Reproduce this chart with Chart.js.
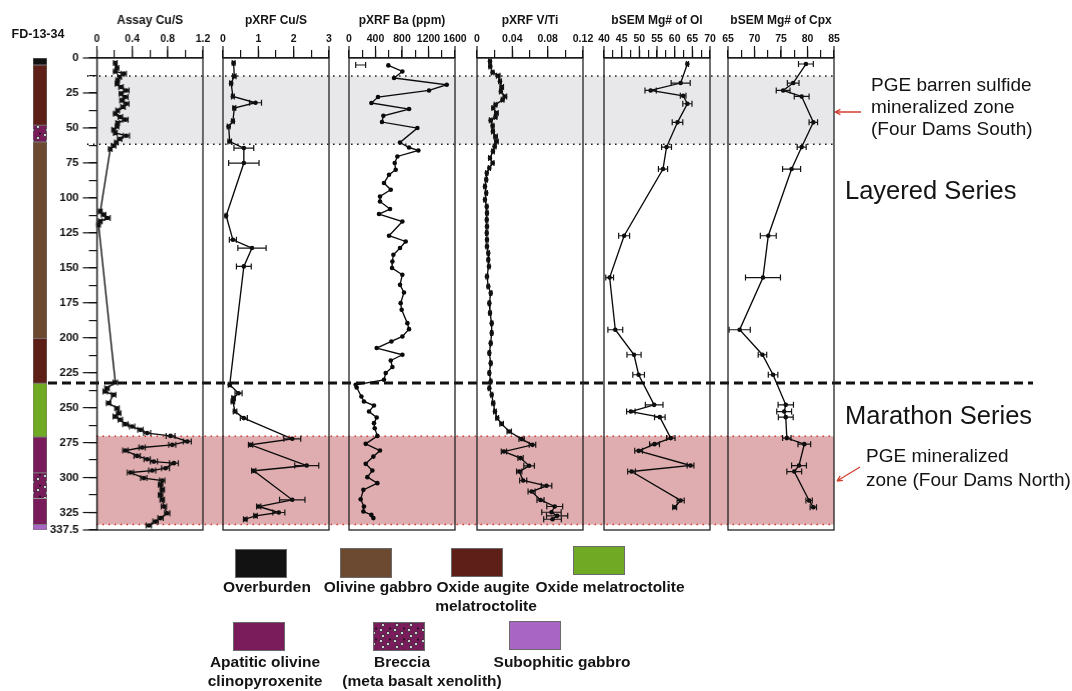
<!DOCTYPE html>
<html lang="en">
<head>
<meta charset="utf-8">
<title>FD-13-34 downhole profiles</title>
<script src="https://cdn.jsdelivr.net/npm/chart.js@4.4.1/dist/chart.umd.min.js"></script>
<style>
  html, body { margin: 0; padding: 0; background: #ffffff; }
  #figure { position: relative; width: 1072px; height: 691px; overflow: hidden; background: #ffffff; }
  #figure canvas { position: absolute; top: 0; }
</style>
</head>
<body>
<div id="figure"></div>
<script>
// ---------------- drill hole data (depth in m) ----------------
const holeId = 'FD-13-34';
const DEPTH_MAX = 337.5;

const depthTicks  = [0, 12.5, 25, 37.5, 50, 62.5, 75, 87.5, 100, 112.5, 125, 137.5, 150, 162.5, 175, 187.5,
                     200, 212.5, 225, 237.5, 250, 262.5, 275, 287.5, 300, 312.5, 325, 337.5];
const depthMajor  = [0, 25, 50, 75, 100, 125, 150, 175, 200, 225, 250, 275, 300, 325, 337.5];
const depthLabels = ['0', '25', '50', '75', '100', '125', '150', '175', '200', '225', '250', '275', '300', '325', '337.5'];

// lithology log
const lithoUnit = ['Overburden', 'Oxide augite melatroctolite', 'Breccia', 'Olivine gabbro',
                   'Oxide augite melatroctolite', 'Oxide melatroctolite', 'Apatitic olivine clinopyroxenite',
                   'Breccia', 'Apatitic olivine clinopyroxenite', 'Subophitic gabbro'];
const lithoFrom = [0, 5, 48, 60, 200.5, 232.5, 271, 296.5, 315, 333.5];
const lithoTo   = [5, 48, 60, 200.5, 232.5, 271, 296.5, 315, 333.5, 337.5];

// mineralized zones and series contact
const barrenZone   = [12.9, 61.7];
const mineralZone  = [270.5, 333.6];
const seriesContact = 232.4;

// Assay Cu/S
const assayDepth = [3.6, 7.2, 9.6, 11.2, 13.6, 16, 18.4, 20.7, 23.2, 25.5, 27.9, 30.3, 32.7, 35, 37.5, 39.8, 42.2,
  44.1, 46.5, 48.9, 51.3, 53.6, 55.6, 57.9, 60.4, 62.7, 65.1,
  109.7, 112, 114.4, 116.8, 119.2,
  232, 236.1, 238.5, 240.8, 246.8, 250.4, 254, 256.4, 258.7, 261.8, 263.5, 265.9, 268.2, 270.2, 274.2, 276.6,
  278.5, 280.7, 284.5, 286.9, 288.6, 289.7, 293.3, 295, 296.4, 300.4, 302.1, 305.2, 308.8, 312.4, 315.9, 320.7,
  325.5, 329, 331.5, 334.3];
const assayCuS = [0.208, 0.227, 0.208, 0.303, 0.257, 0.234, 0.227, 0.272, 0.333, 0.272, 0.322, 0.284, 0.333, 0.295,
  0.234, 0.208, 0.265, 0.322, 0.234, 0.227, 0.189, 0.208, 0.333, 0.257, 0.219, 0.189, 0.151,
  0.038, 0.075, 0.12, 0.038, 0.018,
  0.208, 0.114, 0.094, 0.189, 0.132, 0.227, 0.246, 0.208, 0.265, 0.322, 0.398, 0.492, 0.568, 0.833, 1.023, 0.852,
  0.511, 0.322, 0.455, 0.568, 0.644, 0.871, 0.776, 0.625, 0.379, 0.53, 0.739, 0.72, 0.739, 0.72, 0.739, 0.758,
  0.795, 0.72, 0.663, 0.587];
const assayErr = [0.02, 0.02, 0.02, 0.03, 0.02, 0.02, 0.02, 0.025, 0.03, 0.02, 0.03, 0.025, 0.03, 0.025, 0.02, 0.02,
  0.025, 0.03, 0.02, 0.02, 0.02, 0.02, 0.035, 0.025, 0.02, 0.025, 0.02,
  0.02, 0.025, 0.03, 0.02, 0.02,
  0.025, 0.025, 0.025, 0.025, 0.025, 0.025, 0.025, 0.025, 0.025, 0.03, 0.03, 0.03, 0.04, 0.05, 0.045, 0.04,
  0.035, 0.03, 0.035, 0.035, 0.04, 0.05, 0.045, 0.04, 0.035, 0.035, 0.03, 0.025, 0.025, 0.025, 0.025, 0.03,
  0.03, 0.03, 0.03, 0.03];
const assayTicks = [0, 0.2, 0.4, 0.6, 0.8, 1.0, 1.2];
const assayMajor = [0, 0.4, 0.8, 1.2];
const assayTickLabels = ['0', '0.4', '0.8', '1.2'];

// pXRF Cu/S
const xrfCuDepth = [3.6, 13, 18, 27.5, 32, 35.8, 45.3, 49, 59.7, 64.4, 75.1, 112.8, 130, 135.9, 149,
  233.7, 239.7, 243.2, 245.6, 252.8, 257.5, 272.3, 276.6, 291.4, 295.2, 315.9, 320.7, 325, 327.4, 329.8];
const xrfCuS = [0.30, 0.32, 0.23, 0.28, 0.92, 0.32, 0.28, 0.16, 0.19, 0.59, 0.59, 0.09, 0.28, 0.82, 0.59,
  0.19, 0.44, 0.30, 0.28, 0.34, 0.59, 1.96, 0.78, 2.37, 0.87, 1.96, 1.01, 1.58, 0.92, 0.63];
const xrfCuErr = [0.04, 0.05, 0.04, 0.04, 0.17, 0.04, 0.04, 0.04, 0.05, 0.28, 0.43, 0.03, 0.1, 0.4, 0.21,
  0.04, 0.1, 0.05, 0.05, 0.05, 0.1, 0.24, 0.06, 0.34, 0.06, 0.36, 0.06, 0.17, 0.05, 0.05];
const xrfCuTicks = [0, 0.5, 1, 1.5, 2, 2.5, 3];
const xrfCuMajor = [0, 1, 2, 3];
const xrfCuTickLabels = ['0', '1', '2', '3'];

// pXRF Ba (ppm)
const baDepth = [5.3, 9.6, 14.3, 19.1, 23.2, 27.9, 32.2, 36.5, 41.3, 45.8, 50.1, 60.4, 64, 66.1, 70.4, 75.1,
  79.9, 83.5, 89.4, 94.2, 99, 102.6, 108, 111.6, 116.9, 127.1, 131.2, 135.9, 140.7, 145.5, 150.2, 155,
  162.2, 167.7, 175.3, 180, 189.6, 193.9, 199.1, 202.7, 207.4, 212.2, 216.3, 221, 225.3, 230.1, 233.7, 235.6,
  242, 245.6, 248.5, 252.8, 257.1, 261.1, 264.7, 270.2, 275.9, 280.7, 285, 290.2, 295, 299.7, 304, 308.8,
  315.5, 320.7, 324.3, 326.7, 329];
const baPpm = [594, 806, 680, 1475, 1208, 438, 338, 906, 519, 498, 1032, 770, 906, 1047, 730, 690,
  705, 604, 528, 630, 468, 468, 619, 453, 806, 604, 856, 770, 670, 655, 650, 805,
  770, 830, 780, 795, 881, 906, 806, 640, 418, 806, 630, 655, 554, 528, 101, 116,
  187, 226, 377, 302, 418, 377, 388, 428, 252, 468, 368, 252, 353, 277, 428, 217,
  176, 226, 217, 338, 368];
const baTypical = { depth: 5, value: 176, err: 75 };
const baTicks = [0, 200, 400, 600, 800, 1000, 1200, 1400, 1600];
const baMajor = [0, 400, 800, 1200, 1600];
const baTickLabels = ['0', '400', '800', '1200', '1600'];

// pXRF V/Ti
const vtiDepth = [2.4, 6, 10.3, 12.7, 16.7, 20.8, 23.9, 27.5, 29.8, 33.4, 35.8, 39.3, 42.2, 44.6, 48.4,
  52.5, 56.1, 59.7, 63.2, 66.8, 71.5, 75.1, 78.7, 82.3, 87, 91.8, 96.6, 101.4, 106.2, 110.9,
  115.7, 120.5, 125.2, 130, 134.8, 139.5, 144.3, 149.1, 156.2, 163.4, 168.1, 175.3, 182.4, 189.6, 196.7,
  203.9, 211, 218.2, 225.3, 231.3, 236.1, 240.8, 246.8, 252.8, 257.5, 261.6, 267.1, 272.5, 276.6, 281.4,
  286.1, 291.6, 295.7, 302.1, 305.9, 310, 316, 320.7, 324.8, 327.4, 329.8];
const vti = [0.0147, 0.015, 0.0177, 0.024, 0.026, 0.028, 0.027, 0.0316, 0.029, 0.021, 0.0184, 0.022, 0.021, 0.0155, 0.0177,
  0.018, 0.021, 0.022, 0.020, 0.018, 0.0147, 0.0177, 0.014, 0.011, 0.0105, 0.009, 0.0105, 0.009, 0.011, 0.0113,
  0.011, 0.0113, 0.011, 0.0113, 0.0113, 0.0128, 0.0128, 0.0135, 0.0113, 0.0128, 0.0155, 0.014, 0.0147, 0.0166, 0.0166,
  0.0155, 0.014, 0.0155, 0.014, 0.0155, 0.014, 0.0166, 0.0184, 0.0203, 0.0229, 0.0279, 0.0365, 0.0505, 0.0628, 0.0305,
  0.0493, 0.059, 0.0478, 0.0523, 0.0787, 0.0618, 0.0719, 0.088, 0.0843, 0.0907, 0.0855];
const vtiErr = [0.0015, 0.0015, 0.0015, 0.002, 0.0015, 0.002, 0.0015, 0.002, 0.0015, 0.0015, 0.0015, 0.002, 0.0015, 0.0015, 0.0015,
  0.0015, 0.002, 0.002, 0.0015, 0.0015, 0.0015, 0.0015, 0.0012, 0.0012, 0.0012, 0.0012, 0.0012, 0.0012, 0.0012, 0.0012,
  0.0012, 0.0012, 0.0012, 0.0012, 0.0012, 0.0012, 0.0012, 0.0012, 0.0012, 0.0012, 0.0012, 0.0012, 0.0012, 0.0012, 0.0012,
  0.0012, 0.0012, 0.0012, 0.0012, 0.0012, 0.0012, 0.0012, 0.0015, 0.0015, 0.0015, 0.002, 0.0025, 0.003, 0.0037, 0.003,
  0.003, 0.006, 0.003, 0.004, 0.006, 0.004, 0.004, 0.009, 0.011, 0.012, 0.01];
const vtiTicks = [0, 0.02, 0.04, 0.06, 0.08, 0.1, 0.12];
const vtiMajor = [0, 0.04, 0.08, 0.12];
const vtiTickLabels = ['0', '0.04', '0.08', '0.12'];

// bSEM Mg# of olivine
const olDepth = [4.3, 17.9, 23.2, 27, 32.7, 46, 63.7, 79.4, 127.1, 157, 194.3, 212.2, 226.5, 248, 252.8, 256.8,
  271.8, 276.1, 280.9, 291.4, 295.7, 316.4, 321.2];
const olMg = [63.6, 61.7, 53.2, 62.4, 63.6, 60.8, 57.7, 56.7, 45.7, 41.6, 43.2, 48.5, 49.8, 54.2, 47.6, 55.8,
  58.9, 54.3, 49.8, 64.5, 47.8, 61.7, 60.0];
const olErr = [0.3, 2.7, 1.6, 0.8, 1.3, 1.5, 1.4, 1.3, 1.55, 1.1, 2.1, 2.0, 1.65, 2.5, 1.2, 1.5,
  1.2, 1.4, 1.1, 0.95, 1.1, 1.0, 0.55];
const olTicks = [40, 42.5, 45, 47.5, 50, 52.5, 55, 57.5, 60, 62.5, 65, 67.5, 70];
const olMajor = [40, 45, 50, 55, 60, 65, 70];
const olTickLabels = ['40', '45', '50', '55', '60', '65', '70'];

// bSEM Mg# of clinopyroxene
const cpxDepth = [4.3, 17.9, 23.2, 27.5, 46, 63.7, 79.4, 127.1, 157, 194.3, 212.2, 226.5, 248, 252.8, 256.8,
  271.8, 276.1, 291.4, 295.7, 316.4, 321.2];
const cpxMg = [79.7, 77.3, 75.4, 78.9, 81.1, 78.9, 77.0, 72.6, 71.6, 67.2, 71.5, 73.5, 75.9, 75.6, 75.9,
  76.1, 79.4, 78.4, 77.5, 80.3, 81.1];
const cpxErr = [1.4, 1.1, 1.3, 1.4, 0.8, 0.85, 1.7, 1.5, 3.3, 2.0, 0.8, 0.9, 1.45, 1.4, 1.4,
  0.8, 1.2, 1.4, 1.4, 0.6, 0.6];
const cpxTicks = [65, 67.5, 70, 72.5, 75, 77.5, 80, 82.5, 85];
const cpxMajor = [65, 70, 75, 80, 85];
const cpxTickLabels = ['65', '70', '75', '80', '85'];

// ---------------- layout and style ----------------
const FONT = "'Liberation Sans', Arial, Helvetica, sans-serif";
const INK = '#141414';
const PLOT_TOP = 58, PLOT_BOTTOM = 530;
const PANEL_LEFT = [96.5, 222.5, 348.5, 477, 604, 728];
const PANEL_W = 106, SIDE = 24, Y_AXIS_W = 60, X_AXIS_H = 50;
const ZONE_LEFT = 96.5, ZONE_RIGHT = 834;
const COL_LEFT = 33, COL_RIGHT = 47;

Chart.defaults.font.family = FONT;
Chart.defaults.color = INK;

const UNIT_COLOURS = {
  'Overburden': '#121212',
  'Olivine gabbro': '#6c4a32',
  'Oxide augite melatroctolite': '#5d1f18',
  'Oxide melatroctolite': '#70a923',
  'Apatitic olivine clinopyroxenite': '#7a1b5b',
  'Subophitic gabbro': '#a865c3'
};

// breccia: purple ground with pale basalt clasts
const BRECCIA = (() => {
  const c = document.createElement('canvas');
  c.width = 14; c.height = 11;
  const g = c.getContext('2d');
  g.fillStyle = '#7a1b5b';
  g.fillRect(0, 0, 14, 11);
  [[3, 3], [10, 6], [5, 9]].forEach(([x, y]) => {
    g.beginPath(); g.arc(x, y, 1.6, 0, Math.PI * 2);
    g.fillStyle = '#e6e0ea'; g.fill();
    g.lineWidth = 0.7; g.strokeStyle = '#1a1a1a'; g.stroke();
  });
  g.beginPath(); g.arc(12, 1.5, 1, 0, Math.PI * 2); g.fillStyle = '#111'; g.fill();
  return g.createPattern(c, 'repeat');
})();
function unitFill(u) { return u === 'Breccia' ? BRECCIA : UNIT_COLOURS[u]; }

const LEGEND_LAYOUT = [
  { unit: 'Overburden', box: [235, 549, 52, 29], text: ['Overburden'], tx: [267], ty: 588 },
  { unit: 'Olivine gabbro', box: [340, 548, 52, 30], text: ['Olivine gabbro'], tx: [378], ty: 588 },
  { unit: 'Oxide augite melatroctolite', box: [451, 548, 52, 29], text: ['Oxide augite', 'melatroctolite'], tx: [483, 486], ty: 588 },
  { unit: 'Oxide melatroctolite', box: [573, 546, 52, 29], text: ['Oxide melatroctolite'], tx: [610], ty: 588 },
  { unit: 'Apatitic olivine clinopyroxenite', box: [233, 622, 52, 29], text: ['Apatitic olivine', 'clinopyroxenite'], tx: [265, 265], ty: 663 },
  { unit: 'Breccia', box: [373, 622, 52, 29], text: ['Breccia', '(meta basalt xenolith)'], tx: [402, 422], ty: 663 },
  { unit: 'Subophitic gabbro', box: [509, 621, 52, 29], text: ['Subophitic gabbro'], tx: [562], ty: 663 }
];

function addCanvas(left, width, height) {
  const c = document.createElement('canvas');
  c.width = width; c.height = height;
  c.style.left = left + 'px';
  c.style.width = width + 'px';
  c.style.height = height + 'px';
  document.getElementById('figure').appendChild(c);
  return c;
}

function labelFor(v, majors, labels) {
  const k = majors.findIndex(m => Math.abs(m - v) < 1e-9);
  return k >= 0 ? labels[k] : '';
}

// ---------------- plugins ----------------
// zone shading, contact line, hole name, legend and zone notes
const backdrop = {
  id: 'backdrop',
  beforeDatasetsDraw(chart) {
    const { ctx } = chart;
    const y = chart.scales.y;
    ctx.save();
    ctx.fillStyle = '#e8e8ea';
    let a = y.getPixelForValue(barrenZone[0]), b = y.getPixelForValue(barrenZone[1]);
    ctx.fillRect(ZONE_LEFT, a, ZONE_RIGHT - ZONE_LEFT, b - a);
    ctx.fillStyle = '#dfadaf';
    a = y.getPixelForValue(mineralZone[0]); b = y.getPixelForValue(mineralZone[1]);
    ctx.fillRect(ZONE_LEFT, a, ZONE_RIGHT - ZONE_LEFT, b - a);
    ctx.restore();
  },
  afterDraw(chart) {
    const { ctx } = chart;
    const y = chart.scales.y;
    ctx.save();
    // dotted zone limits
    ctx.lineWidth = 1.5;
    ctx.setLineDash([1.6, 4.4]);
    ctx.strokeStyle = '#222';
    barrenZone.forEach(d => {
      const py = y.getPixelForValue(d);
      ctx.beginPath(); ctx.moveTo(87, py); ctx.lineTo(ZONE_RIGHT, py); ctx.stroke();
    });
    ctx.strokeStyle = '#cf3b30';
    mineralZone.forEach(d => {
      const py = y.getPixelForValue(d);
      ctx.beginPath(); ctx.moveTo(ZONE_LEFT, py); ctx.lineTo(ZONE_RIGHT, py); ctx.stroke();
    });
    // Layered / Marathon series contact
    ctx.setLineDash([9, 5]);
    ctx.lineWidth = 3;
    ctx.strokeStyle = '#111';
    const cy = y.getPixelForValue(seriesContact);
    ctx.beginPath(); ctx.moveTo(48, cy); ctx.lineTo(1033, cy); ctx.stroke();
    ctx.setLineDash([]);

    // hole name
    ctx.fillStyle = INK;
    ctx.textBaseline = 'middle';
    ctx.textAlign = 'center';
    ctx.font = 'bold 12.5px ' + FONT;
    ctx.fillText(holeId, 38, 35);

    // lithology legend
    LEGEND_LAYOUT.forEach(item => {
      const [bx, by, bw, bh] = item.box;
      ctx.fillStyle = unitFill(item.unit);
      ctx.fillRect(bx, by, bw, bh);
      ctx.lineWidth = 1;
      ctx.strokeStyle = '#6a6a6a';
      ctx.strokeRect(bx + 0.5, by + 0.5, bw - 1, bh - 1);
      ctx.fillStyle = INK;
      ctx.font = 'bold 15.5px ' + FONT;
      item.text.forEach((t, k) => ctx.fillText(t, item.tx[k], item.ty + k * 18.5));
    });

    // zone notes
    ctx.textAlign = 'left';
    ctx.fillStyle = INK;
    ctx.font = '19px ' + FONT;
    ctx.fillText('PGE barren sulfide', 871, 86);
    ctx.fillText('mineralized zone', 871, 108);
    ctx.fillText('(Four Dams South)', 871, 130);
    ctx.fillText('PGE mineralized', 866, 457);
    ctx.fillText('zone (Four Dams North)', 866, 481);
    ctx.font = '25.5px ' + FONT;
    ctx.fillText('Layered Series', 845, 192);
    ctx.fillText('Marathon Series', 845, 417);

    // red pointers to the zones
    ctx.strokeStyle = '#d2402f';
    ctx.lineWidth = 1.3;
    const arrow = (x0, y0, x1, y1) => {
      const ang = Math.atan2(y1 - y0, x1 - x0), h = 6;
      ctx.beginPath();
      ctx.moveTo(x0, y0); ctx.lineTo(x1, y1);
      ctx.moveTo(x1, y1); ctx.lineTo(x1 - h * Math.cos(ang - 0.45), y1 - h * Math.sin(ang - 0.45));
      ctx.moveTo(x1, y1); ctx.lineTo(x1 - h * Math.cos(ang + 0.45), y1 - h * Math.sin(ang + 0.45));
      ctx.stroke();
    };
    arrow(861, 112, 835, 112);
    arrow(860, 467, 837, 481);
    ctx.restore();
  }
};

// horizontal analytical error bars
const errorBars = {
  id: 'errorBars',
  afterDatasetsDraw(chart) {
    const { ctx } = chart;
    const xs = chart.scales.x, ys = chart.scales.y;
    ctx.save();
    ctx.strokeStyle = INK;
    ctx.lineWidth = 1.2;
    chart.data.datasets.forEach(ds => {
      if (!ds.errors) return;
      ds.data.forEach((p, i) => {
        const e = ds.errors[i];
        if (!e) return;
        const x0 = xs.getPixelForValue(p.x - e), x1 = xs.getPixelForValue(p.x + e);
        const py = ys.getPixelForValue(p.y);
        ctx.beginPath();
        ctx.moveTo(x0, py); ctx.lineTo(x1, py);
        ctx.moveTo(x0, py - 3); ctx.lineTo(x0, py + 3);
        ctx.moveTo(x1, py - 3); ctx.lineTo(x1, py + 3);
        ctx.stroke();
      });
    });
    ctx.restore();
  }
};

// panel box and longer major ticks
const frame = {
  id: 'frame',
  afterDraw(chart, args, opts) {
    const { ctx, chartArea: a } = chart;
    ctx.save();
    ctx.strokeStyle = '#222';
    ctx.lineWidth = 1.3;
    ctx.strokeRect(a.left, a.top, a.right - a.left, a.bottom - a.top);
    ctx.lineWidth = 1.2;
    ctx.strokeStyle = INK;
    const xs = chart.scales.x;
    (opts.xMajor || []).forEach(v => {
      const px = xs.getPixelForValue(v);
      ctx.beginPath(); ctx.moveTo(px, a.top); ctx.lineTo(px, a.top - 12); ctx.stroke();
    });
    if (opts.yMajor) {
      const ys = chart.scales.y;
      opts.yMajor.forEach(v => {
        const py = ys.getPixelForValue(v);
        ctx.beginPath(); ctx.moveTo(a.left, py); ctx.lineTo(a.left - 14, py); ctx.stroke();
      });
    }
    ctx.restore();
  }
};

// ---------------- lithology column + page backdrop ----------------
new Chart(addCanvas(0, 1072, 691), {
  type: 'bar',
  data: {
    labels: [holeId],
    datasets: lithoUnit.map((u, i) => ({
      label: u,
      data: [[lithoFrom[i], lithoTo[i]]],
      backgroundColor: unitFill(u),
      borderColor: '#7a7a7a',
      borderWidth: 0.8,
      borderSkipped: false,
      grouped: false,
      barPercentage: 1,
      categoryPercentage: 1
    }))
  },
  options: {
    responsive: false,
    animation: false,
    events: [],
    layout: { padding: { left: COL_LEFT, right: 1072 - COL_RIGHT, top: PLOT_TOP, bottom: 691 - PLOT_BOTTOM } },
    plugins: { legend: { display: false }, tooltip: { enabled: false } },
    scales: {
      x: { display: false },
      y: { display: false, min: 0, max: DEPTH_MAX, reverse: true }
    }
  },
  plugins: [backdrop]
});

// ---------------- profile panels ----------------
const PANELS = [
  { title: 'Assay Cu/S', depth: assayDepth, values: assayCuS, errors: assayErr, min: 0, max: 1.2,
    ticks: assayTicks, major: assayMajor, labels: assayTickLabels },
  { title: 'pXRF Cu/S', depth: xrfCuDepth, values: xrfCuS, errors: xrfCuErr, min: 0, max: 3,
    ticks: xrfCuTicks, major: xrfCuMajor, labels: xrfCuTickLabels },
  { title: 'pXRF Ba (ppm)', depth: baDepth, values: baPpm, errors: null, min: 0, max: 1600,
    ticks: baTicks, major: baMajor, labels: baTickLabels, typical: baTypical },
  { title: 'pXRF V/Ti', depth: vtiDepth, values: vti, errors: vtiErr, min: 0, max: 0.12,
    ticks: vtiTicks, major: vtiMajor, labels: vtiTickLabels },
  { title: 'bSEM Mg# of Ol', depth: olDepth, values: olMg, errors: olErr, min: 40, max: 70,
    ticks: olTicks, major: olMajor, labels: olTickLabels },
  { title: 'bSEM Mg# of Cpx', depth: cpxDepth, values: cpxMg, errors: cpxErr, min: 65, max: 85,
    ticks: cpxTicks, major: cpxMajor, labels: cpxTickLabels }
];

PANELS.forEach((p, i) => {
  const first = i === 0;
  const left = PANEL_LEFT[i];
  const canvasLeft = first ? 0 : left - SIDE;
  const canvas = addCanvas(canvasLeft, left - canvasLeft + PANEL_W + SIDE, 691);

  const datasets = [{
    data: p.depth.map((d, k) => ({ x: p.values[k], y: d })),
    errors: p.errors,
    showLine: true,
    borderColor: '#0a0a0a',
    borderWidth: 1.35,
    pointRadius: 2.3,
    pointBackgroundColor: '#0a0a0a',
    pointBorderWidth: 0,
    clip: false
  }];
  if (p.typical) {
    datasets.push({
      data: [{ x: p.typical.value, y: p.typical.depth }],
      errors: [p.typical.err],
      showLine: false,
      pointRadius: 0
    });
  }

  new Chart(canvas, {
    type: 'scatter',
    data: { datasets },
    options: {
      responsive: false,
      animation: false,
      events: [],
      layout: { padding: { left: first ? left - Y_AXIS_W : SIDE, right: SIDE, top: 8, bottom: 691 - PLOT_BOTTOM } },
      plugins: {
        legend: { display: false },
        tooltip: { enabled: false },
        frame: { xMajor: p.major, yMajor: first ? depthMajor : null }
      },
      scales: {
        x: {
          type: 'linear', position: 'top', min: p.min, max: p.max,
          afterBuildTicks: s => { s.ticks = p.ticks.map(v => ({ value: v })); },
          afterFit: s => { s.height = X_AXIS_H; },
          ticks: {
            callback: v => labelFor(v, p.major, p.labels),
            font: { family: FONT, size: 10.5, weight: 'bold' },
            color: INK, padding: 5, autoSkip: false, maxRotation: 0
          },
          grid: { drawOnChartArea: false, tickLength: 8, color: INK, lineWidth: 1.2 },
          border: { color: INK, width: 1.3 },
          title: {
            display: true, text: p.title, color: INK,
            font: { family: FONT, size: 12, weight: 'bold' },
            padding: { top: 5, bottom: 0 }
          }
        },
        y: {
          type: 'linear', min: 0, max: DEPTH_MAX, reverse: true, display: first,
          afterBuildTicks: s => { s.ticks = depthTicks.map(v => ({ value: v })); },
          afterFit: s => { s.width = first ? Y_AXIS_W : 0; },
          ticks: {
            callback: v => labelFor(v, depthMajor, depthLabels),
            font: { family: FONT, size: 11.5, weight: 'bold' },
            color: INK, padding: 10, autoSkip: false
          },
          grid: { drawOnChartArea: false, tickLength: 8, color: INK, lineWidth: 1.2 },
          border: { color: INK, width: 1.3 }
        }
      }
    },
    plugins: [errorBars, frame]
  });
});
</script>
</body>
</html>
